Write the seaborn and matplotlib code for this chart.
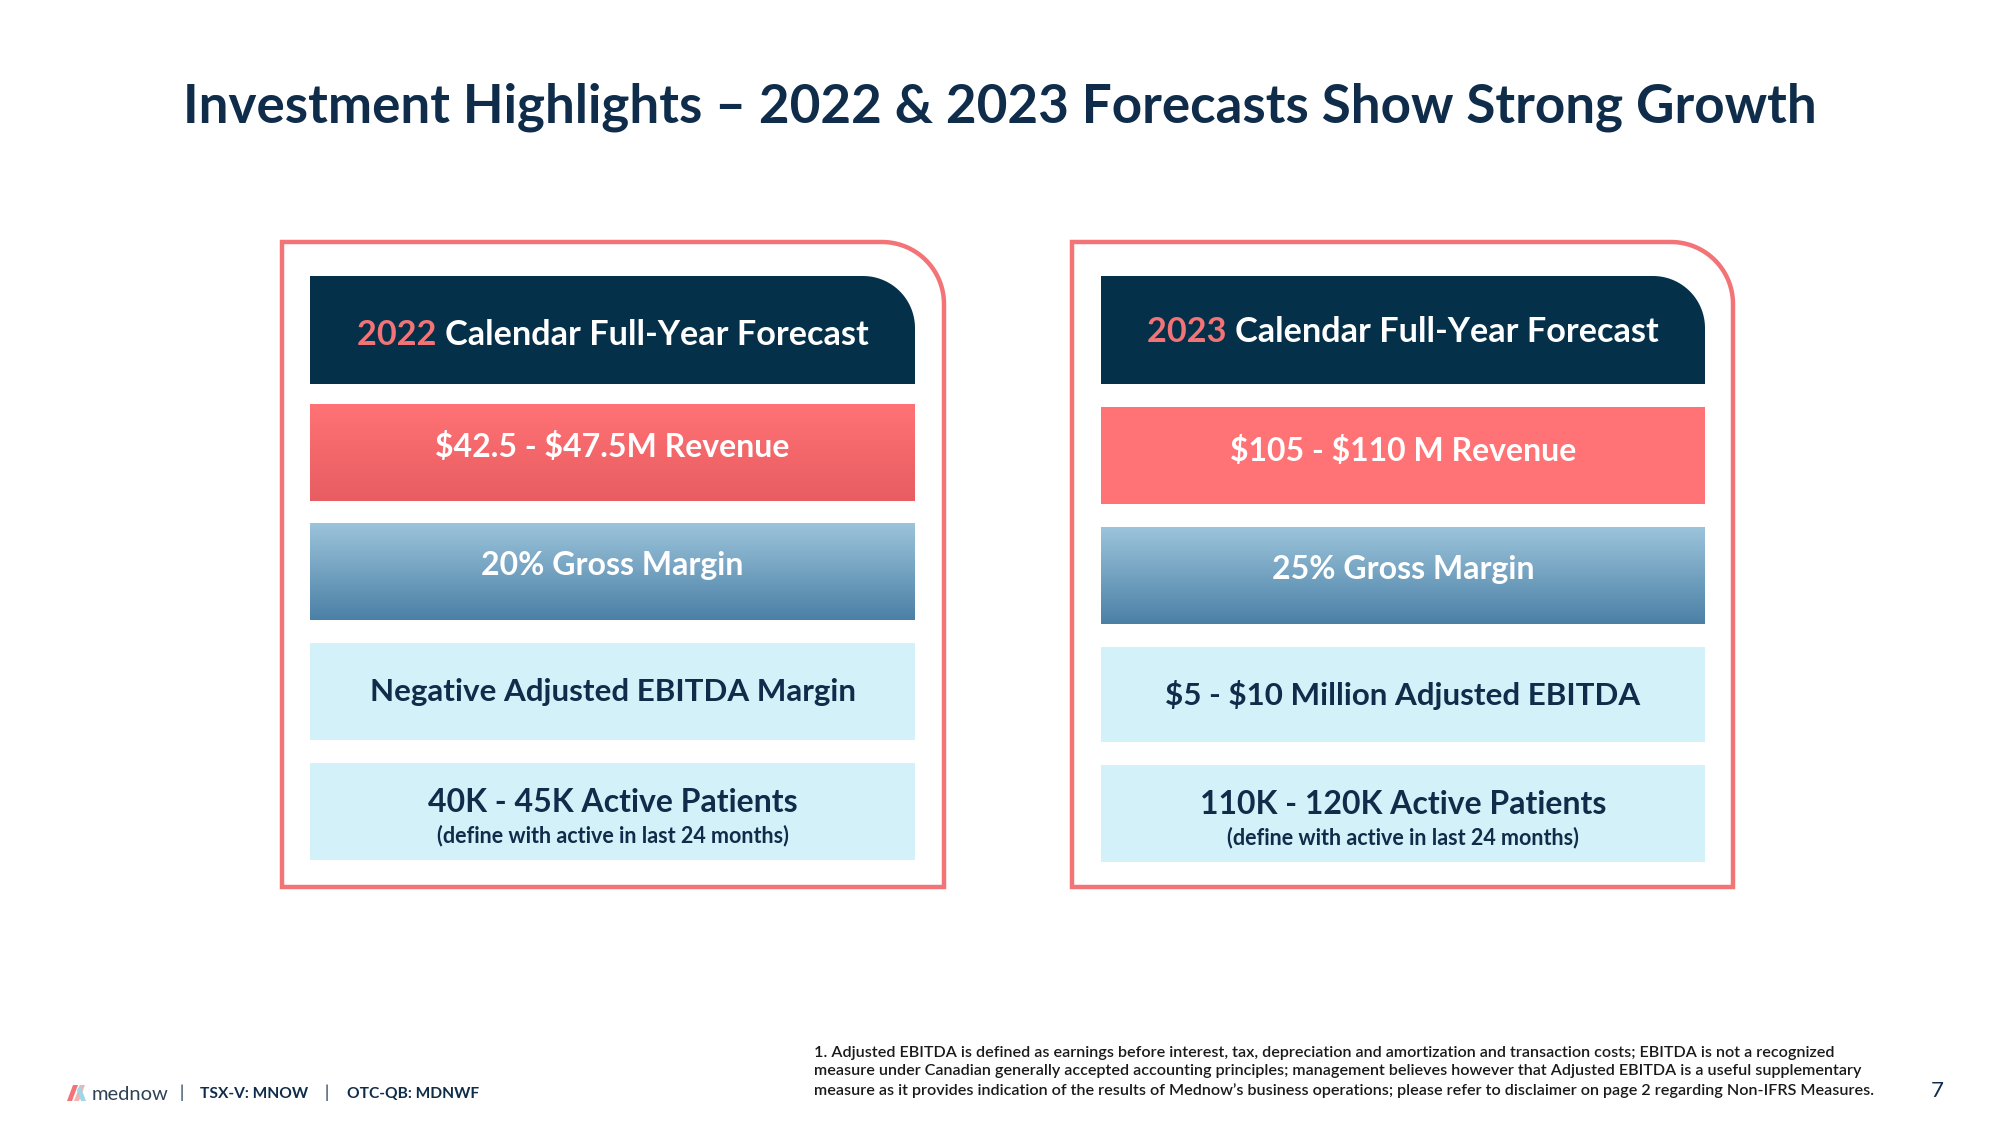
import numpy as np
import matplotlib
matplotlib.use("Agg")
import matplotlib.pyplot as plt
import seaborn as sns
from matplotlib.path import Path
from matplotlib.patches import PathPatch, Rectangle, Polygon

sns.set_theme(style="white")
plt.rcParams['font.family'] = ['Lato', 'DejaVu Sans']
plt.rcParams['text.parse_math'] = False

# ---- content ----
title = "Investment Highlights – 2022 & 2023 Forecasts Show Strong Growth"
years = ["2022", "2023"]
header_rest = "Calendar Full-Year Forecast"
revenue = ["$42.5 - $47.5M Revenue", "$105 - $110 M Revenue"]
gross_margin = ["20% Gross Margin", "25% Gross Margin"]
ebitda = ["Negative Adjusted EBITDA Margin", "$5 - $10 Million Adjusted EBITDA"]
patients = ["40K - 45K Active Patients", "110K - 120K Active Patients"]
patients_note = "(define with active in last 24 months)"
footnote = ("1. Adjusted EBITDA is defined as earnings before interest, tax, depreciation and amortization and transaction costs; EBITDA is not a recognized\n"
            "measure under Canadian generally accepted accounting principles; management believes however that Adjusted EBITDA is a useful supplementary\n"
            "measure as it provides indication of the results of Mednow’s business operations; please refer to disclaimer on page 2 regarding Non-IFRS Measures.")
brand = "mednow"
tickers = ["TSX-V: MNOW", "OTC-QB: MDNWF"]
page_no = "7"

NAVY = "#05304a"
TITLE_C = "#0f2d4a"
CORAL = "#f37476"
LIGHT = "#d3f1f8"

fig = plt.figure(figsize=(20, 11.25), dpi=100)
ax = fig.add_axes([0, 0, 1, 1])
ax.set_xlim(0, 2000)
ax.set_ylim(1125, 0)
ax.axis("off")


def tr_round_path(x0, y0, x1, y1, r):
    th = np.linspace(-np.pi / 2, 0, 30)
    arc = np.column_stack([x1 - r + r * np.cos(th), y0 + r + r * np.sin(th)])
    verts = [(x0, y1), (x0, y0), (x1 - r, y0)] + [tuple(p) for p in arc] + [(x1, y1), (x0, y1)]
    codes = [Path.MOVETO] + [Path.LINETO] * (len(verts) - 2) + [Path.CLOSEPOLY]
    return Path(verts, codes)


def gradient_rect(x0, y0, x1, y1, c_top, c_bot, z=2):
    cmap = matplotlib.colors.LinearSegmentedColormap.from_list("g", [c_top, c_bot])
    grad = np.linspace(0, 1, 256).reshape(-1, 1)
    ax.imshow(grad, cmap=cmap, extent=(x0, x1, y1, y0), aspect="auto", zorder=z, interpolation="bilinear")


panels = [
    dict(outer=(282, 242, 944, 887), x=(310, 915),
         rows=[(276, 384), (404, 501), (523, 620), (643, 740), (763, 860)],
         rev=("#ff7275", "#e85d62"), hdy=5),
    dict(outer=(1072, 242, 1733, 887), x=(1101, 1705),
         rows=[(276, 384), (407, 504), (527, 624), (647, 742), (765, 862)],
         rev=("#ff7376", "#ff7376"), hdy=2),
]

fig.canvas.draw()
renderer = fig.canvas.get_renderer()
BODY = 23
HEAD = 24.7

for i, p in enumerate(panels):
    ox0, oy0, ox1, oy1 = p["outer"]
    ax.add_patch(PathPatch(tr_round_path(ox0, oy0, ox1, oy1, 62), facecolor="white",
                           edgecolor=CORAL, lw=3.2, zorder=1))
    x0, x1 = p["x"]
    cx = (x0 + x1) / 2
    # header
    hy0, hy1 = p["rows"][0]
    ax.add_patch(PathPatch(tr_round_path(x0, hy0, x1, hy1, 52), facecolor=NAVY, edgecolor="none", zorder=2))
    hy = (hy0 + hy1) / 2 + p["hdy"]
    t_full = ax.text(cx, hy, years[i] + " " + header_rest, fontsize=HEAD, fontweight="bold", ha="center", va="center", alpha=0)
    bb = t_full.get_window_extent(renderer)
    left_data = ax.transData.inverted().transform((bb.x0, 0))[0]
    t1 = ax.text(left_data, hy, years[i] + " ", fontsize=HEAD, fontweight="bold", color=CORAL, ha="left", va="center", zorder=5)
    bb1 = t1.get_window_extent(renderer)
    x_rest = ax.transData.inverted().transform((bb1.x1, 0))[0]
    ax.text(x_rest, hy, header_rest, fontsize=HEAD, fontweight="bold", color="white", ha="left", va="center", zorder=5)

    # revenue
    ry0, ry1 = p["rows"][1]
    gradient_rect(x0, ry0, x1, ry1, p["rev"][0], p["rev"][1])
    ax.text(cx, (ry0 + ry1) / 2 - 5, revenue[i], fontsize=BODY, fontweight="bold", color="white", ha="center", va="center", zorder=5)
    # gross margin
    gy0, gy1 = p["rows"][2]
    gradient_rect(x0, gy0, x1, gy1, "#9cc4db", "#4b80a6")
    ax.text(cx, (gy0 + gy1) / 2 - 6, gross_margin[i], fontsize=BODY, fontweight="bold", color="white", ha="center", va="center", zorder=5)
    # ebitda
    ey0, ey1 = p["rows"][3]
    ax.add_patch(Rectangle((x0, ey0), x1 - x0, ey1 - ey0, facecolor=LIGHT, edgecolor="none", zorder=2))
    ax.text(cx, (ey0 + ey1) / 2, ebitda[i], fontsize=22.6, fontweight="bold", color=TITLE_C, ha="center", va="center", zorder=5)
    # patients
    py0, py1 = p["rows"][4]
    ax.add_patch(Rectangle((x0, py0), x1 - x0, py1 - py0, facecolor=LIGHT, edgecolor="none", zorder=2))
    ax.text(cx, py0 + 39, patients[i], fontsize=BODY, fontweight="bold", color=TITLE_C, ha="center", va="center", zorder=5)
    ax.text(cx, py0 + 73, patients_note, fontsize=15.5, fontweight="bold", color=TITLE_C, ha="center", va="center", zorder=5)

# title
ax.text(1000, 107, title, fontsize=38.2, fontweight="bold", color=TITLE_C, ha="center", va="center")

# footer logo
ax.add_patch(Polygon([(67, 1101), (73, 1085), (78, 1085), (72, 1101)], closed=True, facecolor="#f37476", edgecolor="none"))
ax.add_patch(Polygon([(74, 1101), (80, 1085), (85, 1085), (79, 1101)], closed=True, facecolor="#f6b2b0", edgecolor="none"))
ax.add_patch(Polygon([(80, 1085), (86, 1101), (81, 1101), (77, 1090)], closed=True, facecolor="#9fd7e6", edgecolor="none"))
ax.text(92, 1094, brand, fontsize=14.5, color="#2f4256", ha="left", va="center")
ax.text(182, 1093, "|", fontsize=12, color=TITLE_C, ha="center", va="center")
ax.text(200, 1094, tickers[0], fontsize=11.2, fontweight="bold", color=TITLE_C, ha="left", va="center")
ax.text(327, 1093, "|", fontsize=12, color=TITLE_C, ha="center", va="center")
ax.text(347, 1094, tickers[1], fontsize=11.2, fontweight="bold", color=TITLE_C, ha="left", va="center")

ax.text(814, 1072, footnote, fontsize=11.6, color="#1a1a1a", ha="left", va="center", linespacing=1.38, fontweight="semibold")
ax.text(1937, 1091, page_no, fontsize=16, color=TITLE_C, ha="center", va="center")

fig.savefig("out.png", dpi=100, facecolor="white")
